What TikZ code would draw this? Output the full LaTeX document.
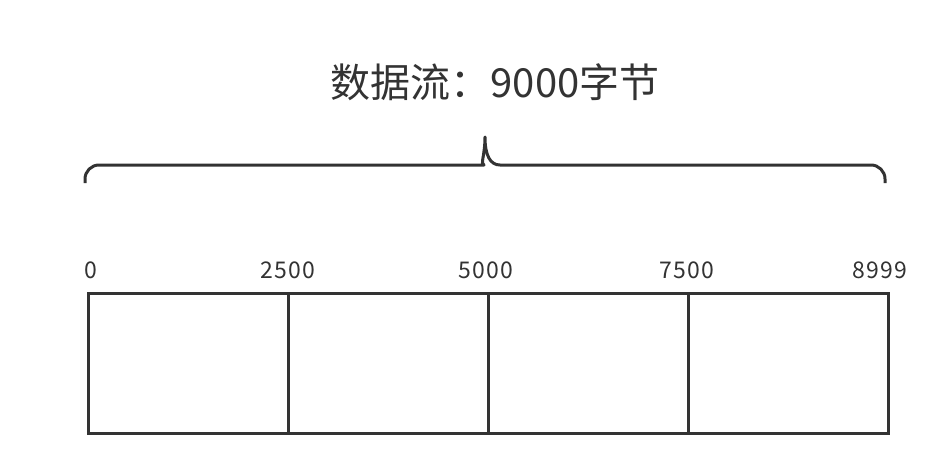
\documentclass[tikz,border=0pt]{standalone}
\usepackage{fontspec}
\setmainfont{Noto Sans CJK SC}
\newfontfamily\tickfont[LetterSpace=6]{Noto Sans CJK SC}
\definecolor{ink}{HTML}{333333}
\begin{document}
\begin{tikzpicture}[x=1pt,y=-1pt,
  cell/.style={draw=ink,line width=3pt,minimum width=200pt,minimum height=140pt,inner sep=0pt,outer sep=0pt},
  tick/.style={text=ink,font=\tickfont\fontsize{23}{23}\selectfont,inner sep=0pt},
  title/.style={text=ink,font=\fontsize{40}{40}\selectfont,inner sep=0pt},
  bracestyle/.style={draw=ink,line width=3pt,rounded corners=14pt,line join=round}]
\useasboundingbox (0,0) rectangle (926,474);
\node[title] (t) at (495,82) {数据流：9000字节};
\draw[bracestyle] (85,183) -- (85,165) -- (470,165) [sharp corners] .. controls (480,165) and (485,155) .. (485,137)
  .. controls (485,155) and (490,165) .. (500,165) [rounded corners=14pt] -- (885,165) -- (885,183);
\node[cell] (c1) at (188,363) {};
\node[cell] (c2) at (388,363) {};
\node[cell] (c3) at (588,363) {};
\node[cell] (c4) at (788,363) {};
\node[tick] (l0) at (91,270) {0};
\node[tick] (l1) at (288,270) {2500};
\node[tick] (l2) at (486,270) {5000};
\node[tick] (l3) at (687,270) {7500};
\node[tick] (l4) at (880,270) {8999};
\end{tikzpicture}
\end{document}
